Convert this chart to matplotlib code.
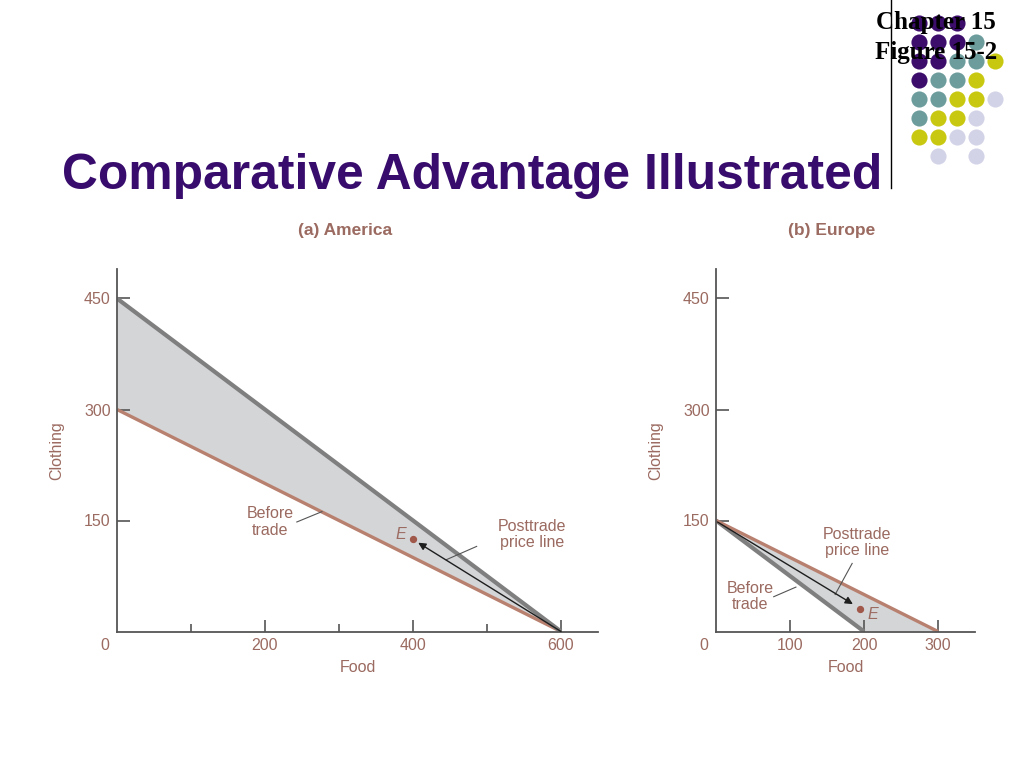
import matplotlib.pyplot as plt
import numpy as np

# --- data ---
am_food = [0, 600]
am_before = [300, 0]      # before-trade line (brown)
am_post = [450, 0]        # posttrade price line (gray)
am_E = (400, 125)
am_arrow_start = (600, 0)
am_arrow_tip = (407, 120)

eu_before_food = [0, 200]
eu_before = [150, 0]      # before-trade line (gray)
eu_post_food = [0, 300]
eu_post = [150, 0]        # posttrade price line (brown)
eu_E = (194, 31)
eu_arrow_start = (2, 148)
eu_arrow_tip = (185, 37)

am_xticks = [200, 400, 600]
am_xminor = [100, 300, 500]
eu_xticks = [100, 200, 300]
yticks = [150, 300, 450]

# decoration dot grid (rows top to bottom), P purple, T teal, Y yellow, L lavender, . empty
dot_rows = ["PPP..", "PPPT.", "PPTTY", "PTTY.", "TTYYL", "TYYL.", "YYLL.", ".L.L."]
dot_colors = {"P": "#3c0d6b", "T": "#6d9c9c", "Y": "#c9c811", "L": "#d3d3e8"}

BROWN_TXT = "#9b6a60"
BROWN_LINE = "#b8806f"
GRAY_LINE = "#7f7f7f"
FILL = "#d4d5d7"
AXIS = "#555555"

plt.rcParams["font.family"] = ["Liberation Sans", "DejaVu Sans"]

fig = plt.figure(figsize=(10.24, 7.68), dpi=100)

# background decoration
deco = fig.add_axes([0, 0, 1, 1])
deco.set_xlim(0, 1024)
deco.set_ylim(768, 0)
deco.axis("off")
for r, row in enumerate(dot_rows):
    for c, ch in enumerate(row):
        if ch != ".":
            deco.scatter(919 + 19 * c, 23 + 19 * r, s=135, color=dot_colors[ch], lw=0)
deco.plot([891, 891], [0, 188], color="black", lw=1)

fig.text(936 / 1024, 1 - 22 / 768, "Chapter 15", family="Liberation Serif", weight="bold",
         fontsize=18, ha="center", va="center", zorder=5)
fig.text(936 / 1024, 1 - 53 / 768, "Figure 15-2", family="Liberation Serif", weight="bold",
         fontsize=18, ha="center", va="center", zorder=5)

fig.text(62 / 1024, 1 - 176 / 768, "Comparative Advantage Illustrated", color="#380c6c",
         weight="bold", fontsize=35.8, ha="left", va="center")
fig.text(345 / 1024, 1 - 230 / 768, "(a) America", color=BROWN_TXT, weight="bold",
         fontsize=12.5, ha="center", va="center")
fig.text(832 / 1024, 1 - 230 / 768, "(b) Europe", color=BROWN_TXT, weight="bold",
         fontsize=12.5, ha="center", va="center")

bottom = (768 - 631.5) / 768
height = 490 * 0.74 / 768
ax1 = fig.add_axes([117 / 1024, bottom, 650 * 0.74 / 1024, height])
ax2 = fig.add_axes([716 / 1024, bottom, 350 * 0.74 / 1024, height])


def style(ax, xmax, xticks, xminor):
    ax.set_xlim(0, xmax)
    ax.set_ylim(0, 490)
    ax.patch.set_alpha(0)
    for s in ["top", "right"]:
        ax.spines[s].set_visible(False)
    for s in ["left", "bottom"]:
        ax.spines[s].set_color(AXIS)
        ax.spines[s].set_linewidth(1.3)
    ax.set_xticks(xticks)
    ax.set_xticks(xminor, minor=True)
    ax.set_yticks(yticks)
    ax.tick_params(axis="x", which="major", direction="in", length=8.6, width=1.2,
                   color=AXIS, labelcolor=BROWN_TXT, labelsize=11.5, pad=5)
    ax.tick_params(axis="x", which="minor", direction="in", length=5.8, width=1.2, color=AXIS)
    ax.tick_params(axis="y", direction="in", length=9.4, width=1.2,
                   color=AXIS, labelcolor=BROWN_TXT, labelsize=11.5, pad=4.5)
    ax.set_xlabel("Food", color=BROWN_TXT, fontsize=11.5, labelpad=5)
    ax.set_ylabel("Clothing", color=BROWN_TXT, fontsize=11.5, labelpad=14)
    ax.text(-12 / 0.74, -13.5 / 0.74, "0", color=BROWN_TXT, fontsize=11.5,
            ha="center", va="center", clip_on=False)


# (a) America
style(ax1, 650, am_xticks, am_xminor)
ax1.fill_between(am_food, am_post, am_before, color=FILL, lw=0)
ax1.plot(am_food, am_before, color=BROWN_LINE, lw=2.4, solid_capstyle="butt")
ax1.plot(am_food, am_post, color=GRAY_LINE, lw=3, solid_capstyle="butt")
ax1.annotate("", xy=am_arrow_tip, xytext=am_arrow_start,
             arrowprops=dict(arrowstyle="-|>", color="#1e1e1e", lw=1, mutation_scale=11,
                             shrinkA=0, shrinkB=0))
ax1.scatter(*am_E, s=18, color="#a0584a", zorder=5)
ax1.text(383, 131, "E", style="italic", color=BROWN_TXT, fontsize=11.5, ha="center", va="center")
ax1.text(207, 148, "Before\ntrade", color=BROWN_TXT, fontsize=11.5, ha="center", va="center",
         linespacing=1.1)
ax1.plot([243, 277], [148, 162], color=AXIS, lw=0.8)
ax1.text(561, 131, "Posttrade\nprice line", color=BROWN_TXT, fontsize=11.5, ha="center",
         va="center", linespacing=1.1)
ax1.plot([486, 445], [115, 97], color=AXIS, lw=0.8)

# (b) Europe
style(ax2, 350, eu_xticks, [])
ax2.fill(eu_before_food + eu_post_food[::-1], eu_before + eu_post[::-1], color=FILL, lw=0)
ax2.plot(eu_before_food, eu_before, color=GRAY_LINE, lw=3, solid_capstyle="butt")
ax2.plot(eu_post_food, eu_post, color=BROWN_LINE, lw=2.4, solid_capstyle="butt")
ax2.annotate("", xy=eu_arrow_tip, xytext=eu_arrow_start,
             arrowprops=dict(arrowstyle="-|>", color="#1e1e1e", lw=1, mutation_scale=11,
                             shrinkA=0, shrinkB=0))
ax2.scatter(*eu_E, s=18, color="#a0584a", zorder=5)
ax2.text(212, 23, "E", style="italic", color=BROWN_TXT, fontsize=11.5, ha="center", va="center")
ax2.text(46, 47, "Before\ntrade", color=BROWN_TXT, fontsize=11.5, ha="center", va="center",
         linespacing=1.1)
ax2.plot([78, 108], [47, 60], color=AXIS, lw=0.8)
ax2.text(191, 120, "Posttrade\nprice line", color=BROWN_TXT, fontsize=11.5, ha="center",
         va="center", linespacing=1.1)
ax2.plot([184, 161], [92, 50], color=AXIS, lw=0.8)

fig.savefig("out.png", dpi=100)
